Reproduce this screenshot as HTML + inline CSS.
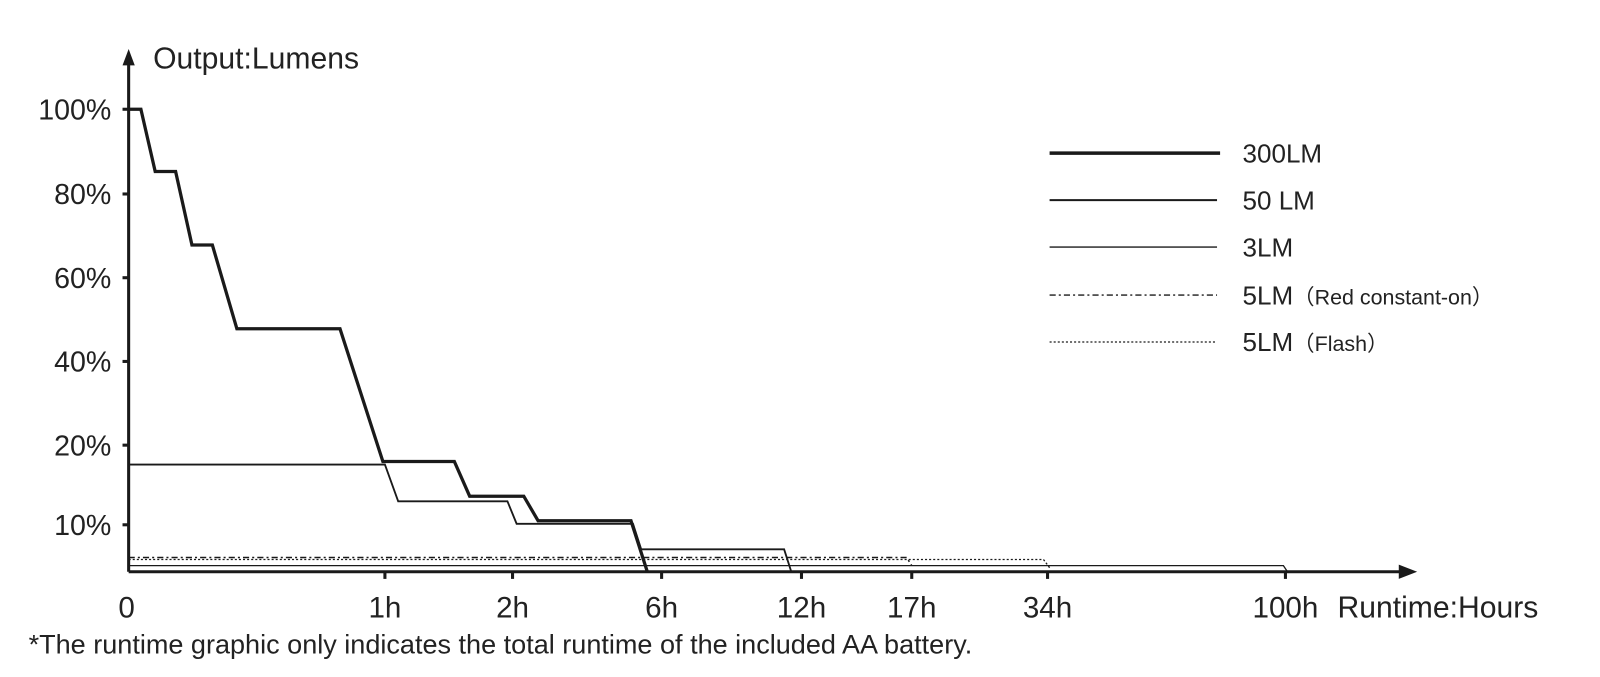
<!DOCTYPE html>
<html><head><style>body{margin:0;background:#fff}svg{display:block}text{font-family:"Liberation Sans",Arial,sans-serif;fill:#222}</style></head>
<body>
<svg width="1600" height="677" xmlns="http://www.w3.org/2000/svg">
<g transform="scale(1.021)">
<g stroke="#1a1a1a" fill="none">
<line x1="126" y1="560" x2="126" y2="60" stroke-width="3"/>
<line x1="126" y1="560" x2="1375" y2="560" stroke-width="3"/>
<g stroke-width="3">
<line x1="120" y1="107" x2="126" y2="107"/><line x1="120" y1="190" x2="126" y2="190"/>
<line x1="120" y1="272" x2="126" y2="272"/><line x1="120" y1="354" x2="126" y2="354"/>
<line x1="120" y1="436" x2="126" y2="436"/><line x1="120" y1="514" x2="126" y2="514"/>
<line x1="377" y1="560" x2="377" y2="567"/><line x1="502" y1="560" x2="502" y2="567"/>
<line x1="648" y1="560" x2="648" y2="567"/><line x1="785" y1="560" x2="785" y2="567"/>
<line x1="893" y1="560" x2="893" y2="567"/><line x1="1026" y1="560" x2="1026" y2="567"/>
<line x1="1259" y1="560" x2="1259" y2="567"/>
</g>
<polyline points="126,554 1257,554 1261,560" stroke-width="1.3"/>
<polyline points="126,548 1022,548 1028,556" stroke-width="1.3" stroke-dasharray="2,2"/>
<polyline points="126,546 888,546 893,554" stroke-width="1.5" stroke-dasharray="6,3,2,3"/>
<polyline points="126,455 377,455 390,491 497,491 506,513 620,513 628,538 768,538 775,560" stroke-width="1.8"/>
<polyline points="126,107 138,107 152,168 172,168 188,240 208,240 232,322 333,322 375,452 445,452 460,486 513,486 527,510 618,510 634,560" stroke-width="3.2"/>
<line x1="1028" y1="150" x2="1195" y2="150" stroke-width="3.5"/>
<line x1="1028" y1="196" x2="1192" y2="196" stroke-width="2"/>
<line x1="1028" y1="242" x2="1192" y2="242" stroke-width="1.3"/>
<line x1="1028" y1="289" x2="1192" y2="289" stroke-width="1.3" stroke-dasharray="6,3,2,3"/>
<line x1="1028" y1="335" x2="1192" y2="335" stroke-width="1.2" stroke-dasharray="2,2"/>
</g>
<polygon points="126,48 120,64 132,64" fill="#1a1a1a"/>
<polygon points="1388,560 1370,553 1370,567" fill="#1a1a1a"/>
<g font-size="28" text-anchor="end">
<text x="109" y="117">100%</text><text x="109" y="200">80%</text><text x="109" y="282">60%</text>
<text x="109" y="364">40%</text><text x="109" y="446">20%</text><text x="109" y="524">10%</text>
</g>
<text x="150" y="67" font-size="29.5">Output:Lumens</text>
<g font-size="29" text-anchor="middle">
<text x="124" y="605">0</text><text x="377" y="605">1h</text><text x="502" y="605">2h</text>
<text x="648" y="605">6h</text><text x="785" y="605">12h</text><text x="893" y="605">17h</text>
<text x="1026" y="605">34h</text><text x="1259" y="605">100h</text>
</g>
<text x="1310" y="605" font-size="29.5">Runtime:Hours</text>
<text x="28" y="640" font-size="26.5">*The runtime graphic only indicates the total runtime of the included AA battery.</text>
<g font-size="25.5">
<text x="1217" y="159">300LM</text><text x="1217" y="205">50 LM</text><text x="1217" y="251">3LM</text>
<text x="1217" y="298">5LM<tspan font-size="21">（Red constant-on）</tspan></text>
<text x="1217" y="344">5LM<tspan font-size="21">（Flash）</tspan></text>
</g>
</g>
</svg>
</body></html>
